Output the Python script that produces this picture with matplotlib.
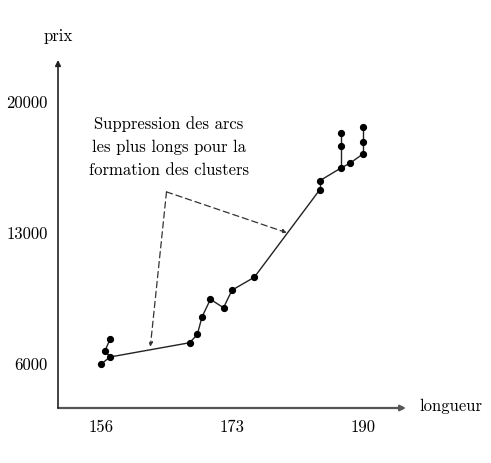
import matplotlib
matplotlib.use('Agg')
import matplotlib.pyplot as plt

plt.rcParams['font.family'] = ['cmr10', 'DejaVu Serif']
plt.rcParams['axes.formatter.use_mathtext'] = True

# points (longueur, prix)
longueur = [156.0, 156.5, 157.2, 157.2, 167.5, 168.5, 169.1, 170.2, 171.9, 173.0,
            175.9, 184.4, 184.4, 187.2, 187.2, 187.2, 188.3, 190.0, 190.0, 190.0]
prix = [6050, 6750, 7390, 6430, 7190, 7630, 8560, 9510, 9060, 10000,
        10690, 15370, 15850, 16540, 17720, 18410, 16780, 17280, 17920, 18720]

# arcs of the tree
edges = [(0, 3), (3, 1), (1, 2), (3, 4), (4, 5), (5, 6), (6, 7), (7, 8), (8, 9),
         (9, 10), (10, 11), (11, 12), (12, 13), (13, 14), (14, 15), (13, 16),
         (16, 17), (17, 18), (18, 19)]

x_ticks = [156, 173, 190]
y_ticks = [6000, 13000, 20000]

# annotation: apex of the dashed arrows and their targets
note_text = "Suppression des arcs\nles plus longs pour la\nformation des clusters"
note_pos = (164.8, 17650)
arrow_start = (164.5, 15250)
arrow_targets = [(162.4, 6980), (180.1, 13070)]

fig = plt.figure(figsize=(4.91, 4.63), dpi=100)
ax = fig.add_axes([58 / 491, 55 / 463, 348 / 491, 348 / 463])
ax.set_xlim(150.42, 195.58)
ax.set_ylim(3702, 22298)
for s in ax.spines.values():
    s.set_visible(False)
ax.set_xticks([])
ax.set_yticks([])

# axes with arrows
ax.annotate('', xy=(1.0, 0), xytext=(0, 0), xycoords='axes fraction',
            arrowprops=dict(arrowstyle='-|>', color='#555555', lw=1.6,
                            mutation_scale=8, shrinkA=0, shrinkB=0))
ax.annotate('', xy=(0, 1.0), xytext=(0, 0), xycoords='axes fraction',
            arrowprops=dict(arrowstyle='-|>', color='#222222', lw=1.2,
                            mutation_scale=8, shrinkA=0, shrinkB=0))

for t in x_ticks:
    ax.text(t, -0.055, str(t), transform=ax.get_xaxis_transform(),
            ha='center', va='center', fontsize=12)
for t in y_ticks:
    ax.text(-0.03, t, str(t), transform=ax.get_yaxis_transform(),
            ha='right', va='center', fontsize=12)

fig.text(58 / 491, 1 - 36 / 463, 'prix', ha='center', va='center', fontsize=12)
fig.text(419 / 491, 1 - 406 / 463, 'longueur', ha='left', va='center', fontsize=12)

for a, b in edges:
    ax.plot([longueur[a], longueur[b]], [prix[a], prix[b]], color='#222222', lw=1.0)
ax.plot(longueur, prix, 'o', color='black', markersize=4.2, zorder=3)

ax.text(note_pos[0], note_pos[1], note_text, ha='center', va='center',
        fontsize=12, linespacing=1.6)
for tgt in arrow_targets:
    ax.annotate('', xy=tgt, xytext=arrow_start,
                arrowprops=dict(arrowstyle='-|>', color='#333333', lw=0.9,
                                linestyle=(0, (5, 3)), mutation_scale=6,
                                shrinkA=0, shrinkB=0))

fig.savefig('out.png', dpi=100)
